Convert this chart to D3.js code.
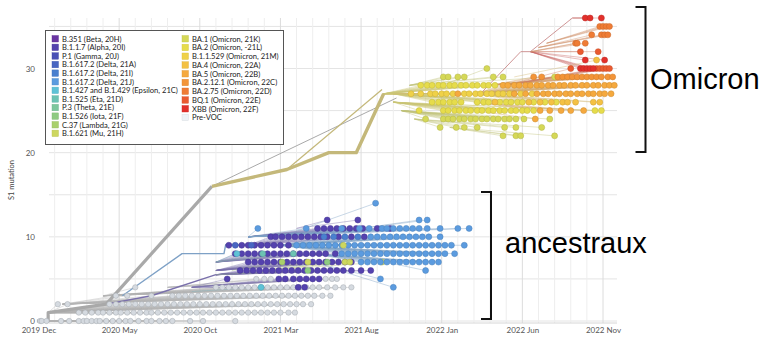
<!DOCTYPE html>
<html>
<head>
<meta charset="utf-8">
<script src="https://cdn.jsdelivr.net/npm/d3@7"></script>
<style>
  body { margin: 0; background: #fff; }
  text { font-family: Lato, "Open Sans", sans-serif; }
</style>
</head>
<body>
<script>
// months counted from 2019 Dec, mutations = S1 mutation count
const monthTicks = [0, 5, 10, 15, 20, 25, 30, 35];
const monthLabels = ["2019 Dec", "2020 May", "2020 Oct", "2021 Mar", "2021 Aug", "2022 Jan", "2022 Jun", "2022 Nov"];
const mutationTicks = [0, 10, 20, 30];

const cladeCodes = ["20H", "20I", "20J", "21A", "21I", "21J", "21C", "21D", "21E", "21F", "21G", "21H",
  "21K", "21L", "21M", "22A", "22B", "22C", "22D", "22E", "22F", "pre"];
const cladeLabels = ["B.351 (Beta, 20H)", "B.1.1.7 (Alpha, 20I)", "P.1 (Gamma, 20J)", "B.1.617.2 (Delta, 21A)",
  "B.1.617.2 (Delta, 21I)", "B.1.617.2 (Delta, 21J)", "B.1.427 and B.1.429 (Epsilon, 21C)", "B.1.525 (Eta, 21D)",
  "P.3 (Theta, 21E)", "B.1.526 (Iota, 21F)", "C.37 (Lambda, 21G)", "B.1.621 (Mu, 21H)",
  "BA.1 (Omicron, 21K)", "BA.2 (Omicron, -21L)", "B.1.1.529 (Omicron, 21M)", "BA.4 (Omicron, 22A)",
  "BA.5 (Omicron, 22B)", "BA.2.12.1 (Omicron, 22C)", "BA.2.75 (Omicron, 22D)", "BQ.1 (Omicron, 22E)",
  "XBB (Omicron, 22F)", "Pre-VOC"];
const cladeColors = ["#6a35a3", "#5442ae", "#4a50b6", "#4866c2", "#4a80cf", "#5b9bdf", "#5ec2d6", "#6cc3b3",
  "#7dc79d", "#8ecb82", "#a9d06b", "#cdd75f", "#d5d857", "#e6dc4b", "#efd148", "#f4c143", "#f5a93e",
  "#f39438", "#ef7c35", "#ea5a30", "#e2302b", "#eef2f6"];

// main branches [month, mutations]
const rootTrunk = [[-0.1, 0], [0.6, 0], [0.6, 1], [4.2, 2], [10.75, 16]];
const omicronStem = [[10.75, 16], [15.4, 18], [18, 20], [19.7, 20], [21.4, 27]];
const omicronSide = [[15.4, 18], [21.3, 27.5]];
const grayLong = [[10.75, 16], [22.2, 26.5]];
const alphaStem = [[4.2, 2], [7, 3], [11, 5.5]];
const deltaStem = [[5.2, 3], [8.9, 8], [11.5, 8], [11.6, 9], [15, 9]];
const xbbStem = [[27.4, 27], [29.9, 32], [30.5, 32], [33.1, 36]];

// tips: [clade, mutations, parent [month, mutations], months]
const preVocTips = [
  ["pre", 0, [0, 0], [0.1, 0.2, 0.5, 1.4, 1.9, 2.5, 2.8, 3.0, 3.3, 3.6, 3.8, 4.2, 4.6, 5.0, 5.4, 5.7, 6.2, 6.7, 7.0, 7.5, 7.9, 8.3, 9.4, 10.2, 12.2]],
  ["pre", 1, [0.6, 1], [2.5, 2.9, 3.3, 3.7, 4.0, 4.4, 4.8, 5.1, 5.5, 5.9, 6.3, 6.7, 7.0, 7.4, 7.8, 8.2, 8.6, 9.0, 9.4, 9.8, 10.2, 10.6, 11.0, 11.4, 11.8, 12.2, 12.6, 13.0, 13.4, 13.8, 14.2, 14.6, 15.0, 15.5, 15.9]],
  ["pre", 2, [0.6, 1], [1.2, 1.8, 4.4, 4.8, 5.2, 5.6, 6.0, 6.4, 6.8, 7.2, 7.6, 8.0, 8.4, 8.8, 9.2, 9.6, 10.0, 10.4, 10.8, 11.2, 11.6, 12.0, 12.4, 12.8, 13.2, 13.6, 14.0, 14.4, 14.8, 15.2, 15.6, 16.0, 16.4, 16.9]],
  ["pre", 3, [1.5, 2], [4.8, 5.5, 7.0, 8.3, 8.7, 9.1, 9.5, 9.9, 10.3, 10.7, 11.1, 11.5, 11.9, 12.3, 12.7, 13.1, 13.5, 13.9, 14.3, 14.7, 15.1, 15.5, 15.9, 16.3, 16.7, 17.1, 17.6, 18.1]],
  ["pre", 4, [4, 3], [6.0, 11.0, 11.4, 11.8, 12.2, 12.6, 13.0, 13.4, 13.8, 14.2, 14.6, 15.0, 15.4, 15.8, 16.2, 16.6, 17.0, 17.4, 17.9, 18.4, 18.9, 19.4]],
  ["pre", 5, [8, 4], [13.5, 14.0, 14.4, 17.8, 18.2, 18.5]]
];

const ancestralTips = [
  ["20I", 4, [9.5, 4], [16.1, 16.5]],
  ["21C", 4, [9.5, 3.5], [13.8]],
  ["21J", 4, [17, 7], [22.0]],
  ["20I", 5, [9.5, 4], [11.7, 14.9, 15.3, 15.8, 16.2, 16.6, 17.0, 17.4]],
  ["21J", 5, [17, 7], [21.2]],
  ["20I", 6, [11, 5.5], [12.5, 12.9, 13.3, 13.7, 14.1, 14.5, 14.9, 15.3, 15.7, 16.1, 16.5, 16.9, 17.3, 17.7, 18.1, 18.5, 18.9, 19.4, 20.0, 20.6]],
  ["21F", 6, [11, 5.5], [16.7]],
  ["21J", 6, [19, 8], [24.0]],
  ["20I", 7, [11, 6], [13.0, 13.4, 13.8, 14.2, 14.6, 15.0, 15.4, 15.8, 16.2, 16.6, 17.0, 17.4, 17.8, 18.2, 18.6, 19.0, 19.4]],
  ["21G", 7, [12, 6], [15.1]],
  ["21H", 7, [14, 6], [16.7, 19.0, 19.3, 21.3]],
  ["21F", 7, [14, 6], [17.9]],
  ["21J", 7, [17, 8], [20.0, 20.4, 20.8, 21.2, 21.6, 22.0, 22.4, 22.8, 23.2, 23.6, 24.0, 24.4, 24.8]],
  ["20I", 8, [11, 7], [12.2, 12.6, 13.0, 13.4, 13.8, 14.2, 14.6, 15.0, 15.4, 15.8, 16.2, 16.6, 17.0, 17.4, 17.8, 18.4]],
  ["21C", 8, [11, 7], [12.3]],
  ["21D", 8, [11, 7], [13.9, 15.8]],
  ["21J", 8, [15, 9], [18.8, 19.2, 19.6, 20.0, 20.4, 20.8, 21.2, 21.6, 22.0, 22.4, 22.8, 23.2, 23.6, 24.0, 24.4, 24.8, 25.2, 25.8]],
  ["20I", 9, [11.6, 9], [11.8, 12.6, 13.0, 13.4, 13.8, 14.2, 14.6, 15.0, 15.5]],
  ["21A", 9, [11.6, 9], [12.2, 13.2]],
  ["21J", 9, [11.6, 9], [16.0, 16.4, 16.8, 17.2, 17.6, 18.0, 18.4, 18.8, 19.2, 19.6, 20.0, 20.4, 20.8, 21.2, 21.6, 22.0, 22.4, 22.8, 23.2, 23.6, 24.0, 24.4, 24.8, 25.2, 25.6, 26.4]],
  ["21H", 9, [14, 9], [18.9]],
  ["20I", 10, [13, 9], [14.4, 14.7, 15.1, 15.5, 15.9, 16.3, 16.7, 17.1, 17.5, 17.9, 18.6, 19.4, 20.2]],
  ["21I", 10, [15, 9], [17.7, 18.3, 19.0, 19.8]],
  ["21J", 10, [15, 9], [20.6, 21.0, 21.4, 21.8, 22.2, 22.6, 23.0, 23.4, 23.8, 24.2, 24.9]],
  ["20I", 11, [13, 10], [17.3, 17.7, 18.1, 18.5, 18.9, 19.3, 19.7, 20.1, 21.0, 21.8]],
  ["21J", 11, [13, 10], [13.6, 16.6, 18.8, 19.9, 20.5, 21.3, 21.6, 22.0, 22.4, 22.8, 23.2, 23.6, 24.1, 24.9, 26.0, 26.7]],
  ["20I", 12, [16, 11], [17.9, 19.8]],
  ["21J", 12, [20, 11], [23.6, 24.1]],
  ["21J", 14, [15, 10], [20.9]]
];

const omicronTips = [
  ["21K", 22, [25.5, 23], [28.8, 29.6, 29.9, 32.0]],
  ["21K", 23, [23.3, 24], [24.9, 25.9, 26.4, 27.2, 28.9, 29.6, 31.2]],
  ["21K", 24, [22.5, 25], [24.0, 25.1, 25.4, 25.7, 26.1, 26.4, 26.8, 27.1, 27.5, 27.8, 28.2, 28.5, 28.9, 29.2, 29.6, 30.1, 31.7]],
  ["22B", 24, [27, 25], [30.8]],
  ["21L", 25, [22, 26], [23.6, 25.1, 25.4, 25.8, 26.1, 26.5, 26.8, 27.2, 27.5, 27.9, 28.2, 28.6, 28.9, 29.3, 29.6, 30.0, 30.3, 30.7, 34.5, 34.9]],
  ["22B", 25, [27, 26], [31.1, 31.7, 32.4, 33.0, 33.8]],
  ["21L", 26, [22, 27], [24.4, 24.8, 25.1, 25.5, 25.8, 26.2, 27.2, 27.6, 27.9, 28.6, 29.0, 29.3, 29.7, 30.0, 30.7, 31.4, 32.1]],
  ["22A", 26, [27, 27], [28.3, 30.4, 31.1, 31.8, 32.5, 32.8, 33.3, 34.4, 34.8]],
  ["21M", 27, [21.4, 27], [23.1, 23.7, 24.3, 24.6, 25.0, 25.3, 25.7, 26.4, 26.7, 27.1, 27.4, 27.8, 28.1, 28.5, 28.8, 29.2, 29.9, 30.6]],
  ["22B", 27, [26, 27], [26.0, 29.5, 30.2, 30.9, 31.3, 31.6, 32.0, 32.3, 32.7, 33.0, 33.4, 33.7, 34.1, 34.4, 34.8, 35.1, 35.5]],
  ["21L", 28, [21.4, 27], [23.7, 24.1, 24.4, 24.8, 25.1, 25.5, 25.8, 26.2, 26.5, 26.9, 27.2, 27.6, 27.9, 28.3]],
  ["22B", 28, [27, 27], [28.8, 29.1, 29.5, 29.8, 30.2, 30.5, 30.9, 31.2, 31.6, 31.9, 32.3, 32.6, 33.0, 33.3, 33.7, 34.0, 34.4, 34.7, 35.1, 35.4, 35.7]],
  ["21K", 29, [23, 28], [25.1, 25.4, 26.0, 26.4, 28.2, 28.8, 32.0]],
  ["22C", 29, [28, 28], [30.7, 31.2, 32.2, 32.5, 32.8, 33.1, 33.4, 33.7, 34.0, 34.3, 34.6, 34.9, 35.3, 35.6]],
  ["21K", 30, [25, 28], [27.8]],
  ["22E", 30, [29, 28], [33.0, 34.6, 34.8, 35.0, 35.2, 35.4]],
  ["22F", 30, [30.5, 32], [33.6, 33.8, 34.0, 34.2, 34.4]],
  ["22F", 31, [30.5, 32], [33.9, 35.1]],
  ["22A", 31, [29.5, 29], [34.6]],
  ["22E", 32, [30.5, 32], [33.6, 34.7]],
  ["22D", 33, [30.5, 32], [33.3, 33.4, 33.9]],
  ["22D", 34, [31, 32.5], [34.3, 34.9, 35.1, 35.3]],
  ["22D", 35, [31.5, 33], [34.8, 35.0, 35.2, 35.4]],
  ["22F", 36, [33.1, 36], [33.9, 34.2, 34.9]]
];

const W = 767, H = 337;
const svg = d3.select("body").append("svg").attr("width", W).attr("height", H);

const x = d3.scaleLinear().domain([0, 35]).range([38.5, 603]);
const y = d3.scaleLinear().domain([0, 36]).range([321, 18]);
const color = d3.scaleOrdinal().domain(cladeCodes).range(cladeColors);
const plotLeft = 49, plotRight = 617;

// grid
const grid = svg.append("g");
grid.selectAll(".hgrid")
  .data(d3.range(0, 36, 5))
  .join("line")
  .attr("x1", plotLeft).attr("x2", plotRight)
  .attr("y1", d => y(d)).attr("y2", d => y(d))
  .attr("stroke", "#e4e4e4").attr("stroke-width", 1);
grid.selectAll(".vgrid")
  .data(d3.range(1, 36))
  .join("line")
  .attr("x1", d => x(d)).attr("x2", d => x(d))
  .attr("y1", y(36)).attr("y2", y(0) + 2)
  .attr("stroke", d => monthTicks.includes(d) ? "#dcdcdc" : "#eeeeee")
  .attr("stroke-width", 1);
svg.append("line")
  .attr("x1", plotLeft).attr("x2", plotRight)
  .attr("y1", y(0) + 2).attr("y2", y(0) + 2)
  .attr("stroke", "#d6d6d6");

// axes
const xAxis = svg.append("g")
  .attr("transform", `translate(0,${y(0) + 2})`)
  .call(d3.axisBottom(x).tickValues(monthTicks).tickSize(0).tickPadding(4)
    .tickFormat((d, i) => monthLabels[i]));
const yAxis = svg.append("g")
  .attr("transform", `translate(37,0)`)
  .call(d3.axisLeft(y).tickValues(mutationTicks).tickSize(0).tickPadding(2));
[xAxis, yAxis].forEach(a => {
  a.select(".domain").remove();
  a.selectAll("text").attr("fill", "#555").style("font-size", "8px")
    .style("font-family", "Lato, sans-serif");
});

svg.append("text")
  .attr("transform", `translate(14,180) rotate(-90)`)
  .attr("text-anchor", "middle")
  .attr("fill", "#444")
  .style("font-size", "7.5px")
  .text("S1 mutation");

const line = d3.line().x(d => x(d[0])).y(d => y(d[1]));
const lineColor = c => c === "pre" ? "#b4b4b4" : d3.interpolateRgb(color(c), "#a8a8a8")(0.45);

// tip branches
const allTips = [...preVocTips, ...ancestralTips, ...omicronTips];
const branches = svg.append("g").attr("fill", "none");
allTips.forEach(([c, v, parent, months]) => {
  branches.selectAll(null)
    .data(months)
    .join("path")
    .attr("d", m => line([parent, [m, v]]))
    .attr("stroke", lineColor(c))
    .attr("stroke-opacity", 0.6)
    .attr("stroke-width", 0.7);
});

// main branches
const stems = [
  [alphaStem, "20I", 1.4],
  [deltaStem, "21J", 1.4],
  [grayLong, "pre", 1],
  [omicronSide, "21K", 1.2],
  [xbbStem, "22F", 0.9],
  [rootTrunk, "pre", 3.2],
  [omicronStem, "21K", 3.4]
];
svg.append("g").attr("fill", "none")
  .selectAll("path")
  .data(stems)
  .join("path")
  .attr("d", d => line(d[0]))
  .attr("stroke", d => d[1] === "pre" ? "#a9a9a9" : d[1] === "21K" ? "#c4b87a"
    : d[1] === "22F" ? "#c98a8a" : lineColor(d[1]))
  .attr("stroke-width", d => d[2])
  .attr("stroke-linejoin", "round");

// tips
const dots = svg.append("g");
allTips.forEach(([c, v, parent, months]) => {
  dots.selectAll(null)
    .data(months)
    .join("circle")
    .attr("cx", m => x(m))
    .attr("cy", y(v))
    .attr("r", c === "pre" ? 2.7 : 3)
    .attr("fill", c === "pre" ? "#d5dae0" : color(c))
    .attr("stroke", c === "pre" ? "#a3a8ae" : d3.color(color(c)).darker(0.5))
    .attr("stroke-width", 0.5);
});

// legend
const legend = svg.append("g");
legend.append("rect")
  .attr("x", 45.5).attr("y", 30.5).attr("width", 238).attr("height", 114)
  .attr("fill", "#fff").attr("stroke", "#555").attr("stroke-width", 1);
const legendItems = legend.selectAll(".item")
  .data(cladeCodes)
  .join("g")
  .attr("transform", (d, i) => i < 12
    ? `translate(52,${35.5 + i * 8.6})`
    : `translate(182,${35.5 + (i - 12) * 8.75})`);
legendItems.append("rect")
  .attr("width", 6.5).attr("height", 6.5)
  .attr("fill", d => color(d))
  .attr("stroke", d => d3.color(color(d)).darker(0.3))
  .attr("stroke-width", 0.4);
legendItems.append("text")
  .attr("x", 10).attr("y", 3.5).attr("dy", "0.35em")
  .attr("fill", "#222")
  .style("font-size", "7.6px")
  .text((d, i) => cladeLabels[i]);

// annotations
const bracket = (xv, y1, y2) => `M${xv - 10},${y1}H${xv}V${y2}H${xv - 10}`;
svg.append("path").attr("d", bracket(645.5, 7, 152))
  .attr("fill", "none").attr("stroke", "#111").attr("stroke-width", 2);
svg.append("path").attr("d", bracket(491, 192, 319))
  .attr("fill", "none").attr("stroke", "#111").attr("stroke-width", 2);
svg.append("text").attr("x", 650).attr("y", 89)
  .style("font-family", "'Liberation Sans', Arial, sans-serif").style("font-size", "29px")
  .attr("fill", "#000").text("Omicron");
svg.append("text").attr("x", 505).attr("y", 253)
  .style("font-family", "'Liberation Sans', Arial, sans-serif").style("font-size", "29px")
  .attr("fill", "#000").text("ancestraux");
</script>
</body>
</html>
